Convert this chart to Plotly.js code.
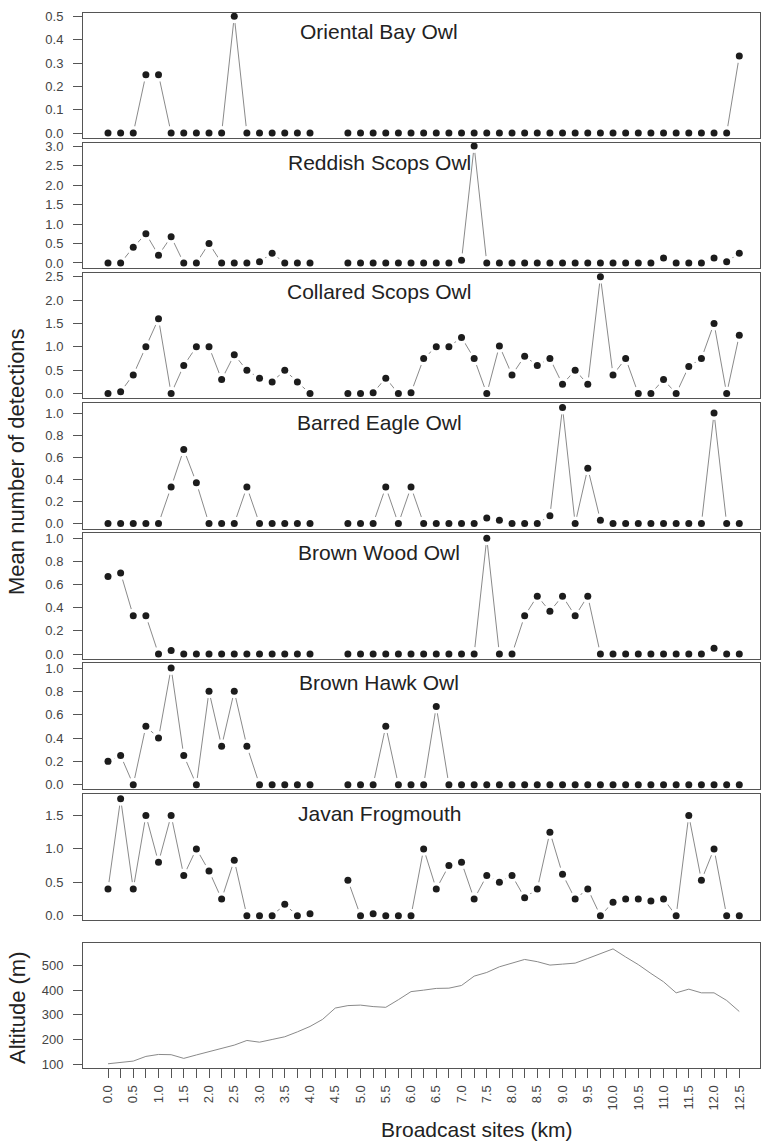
<!DOCTYPE html>
<html>
<head>
<meta charset="utf-8">
<script src="https://cdn.plot.ly/plotly-3.0.1.min.js"></script>
<style>
  html, body { margin: 0; padding: 0; background: #ffffff; }
  #chart { width: 762px; height: 1147px; }
</style>
</head>
<body>
<div id="chart"></div>
<script>
// ---------------- DATA ----------------
// Broadcast sites with detection data (km); 4.25 and 4.5 were not surveyed
const sites = [0, 0.25, 0.5, 0.75, 1, 1.25, 1.5, 1.75, 2, 2.25, 2.5, 2.75, 3, 3.25, 3.5, 3.75, 4,
  4.75, 5, 5.25, 5.5, 5.75, 6, 6.25, 6.5, 6.75, 7, 7.25, 7.5, 7.75, 8, 8.25, 8.5, 8.75, 9, 9.25,
  9.5, 9.75, 10, 10.25, 10.5, 10.75, 11, 11.25, 11.5, 11.75, 12, 12.25, 12.5];

const orientalBayOwl = [0, 0, 0, 0.25, 0.25, 0, 0, 0, 0, 0, 0.5, 0, 0, 0, 0, 0, 0,
  0, 0, 0, 0, 0, 0, 0, 0, 0, 0, 0, 0, 0, 0, 0, 0, 0, 0, 0, 0, 0, 0, 0, 0, 0, 0, 0, 0, 0, 0, 0, 0.33];

const reddishScopsOwl = [0, 0, 0.4, 0.75, 0.2, 0.67, 0, 0, 0.5, 0, 0, 0, 0.03, 0.25, 0, 0, 0,
  0, 0, 0, 0, 0, 0, 0, 0, 0, 0.07, 3.0, 0, 0, 0, 0, 0, 0, 0, 0, 0, 0, 0, 0, 0, 0, 0.13, 0, 0, 0, 0.13, 0.03, 0.25];

const collaredScopsOwl = [0, 0.04, 0.4, 1.0, 1.6, 0, 0.6, 1.0, 1.0, 0.3, 0.83, 0.5, 0.33, 0.25, 0.5, 0.25, 0,
  0, 0, 0.02, 0.33, 0, 0.02, 0.75, 1.0, 1.0, 1.2, 0.75, 0, 1.02, 0.4, 0.8, 0.6, 0.75, 0.2, 0.5,
  0.2, 2.5, 0.4, 0.75, 0, 0, 0.3, 0, 0.58, 0.75, 1.5, 0, 1.25];

const barredEagleOwl = [0, 0, 0, 0, 0, 0.33, 0.67, 0.37, 0, 0, 0, 0.33, 0, 0, 0, 0, 0,
  0, 0, 0, 0.33, 0, 0.33, 0, 0, 0, 0, 0, 0.05, 0.03, 0, 0, 0, 0.07, 1.05, 0, 0.5, 0.03,
  0, 0, 0, 0, 0, 0, 0, 0, 1.0, 0, 0];

const brownWoodOwl = [0.67, 0.7, 0.33, 0.33, 0, 0.03, 0, 0, 0, 0, 0, 0, 0, 0, 0, 0, 0,
  0, 0, 0, 0, 0, 0, 0, 0, 0, 0, 0, 1.0, 0, 0, 0.33, 0.5, 0.37, 0.5, 0.33, 0.5, 0,
  0, 0, 0, 0, 0, 0, 0, 0, 0.05, 0, 0];

const brownHawkOwl = [0.2, 0.25, 0, 0.5, 0.4, 1.0, 0.25, 0, 0.8, 0.33, 0.8, 0.33, 0, 0, 0, 0, 0,
  0, 0, 0, 0.5, 0, 0, 0, 0.67, 0, 0, 0, 0, 0, 0, 0, 0, 0, 0, 0, 0, 0,
  0, 0, 0, 0, 0, 0, 0, 0, 0, 0, 0];

const javanFrogmouth = [0.4, 1.75, 0.4, 1.5, 0.8, 1.5, 0.6, 1.0, 0.67, 0.25, 0.83, 0, 0, 0, 0.17, 0, 0.03,
  0.53, 0, 0.03, 0, 0, 0, 1.0, 0.4, 0.75, 0.8, 0.25, 0.6, 0.5, 0.6, 0.27, 0.4, 1.25, 0.62, 0.25,
  0.4, 0, 0.2, 0.25, 0.25, 0.22, 0.25, 0, 1.5, 0.53, 1.0, 0, 0];

// Altitude profile along the transect (every 0.25 km)
const altSites = [0, 0.25, 0.5, 0.75, 1, 1.25, 1.5, 1.75, 2, 2.25, 2.5, 2.75, 3, 3.25, 3.5, 3.75, 4,
  4.25, 4.5, 4.75, 5, 5.25, 5.5, 5.75, 6, 6.25, 6.5, 6.75, 7, 7.25, 7.5, 7.75, 8, 8.25, 8.5, 8.75,
  9, 9.25, 9.5, 9.75, 10, 10.25, 10.5, 10.75, 11, 11.25, 11.5, 11.75, 12, 12.25, 12.5];
const altitude = [101, 107, 112, 131, 139, 138, 123, 137, 150, 161, 177, 196, 189, 200, 211, 231, 253,
  282, 328, 338, 340, 334, 331, 362, 395, 401, 408, 409, 420, 458, 473, 496, 512, 526, 517, 503,
  507, 511, 530, 550, 569, 536, 505, 469, 435, 390, 405, 390, 390, 359, 314];

const speciesNames = ["Oriental Bay Owl", "Reddish Scops Owl", "Collared Scops Owl", "Barred Eagle Owl",
  "Brown Wood Owl", "Brown Hawk Owl", "Javan Frogmouth"];
const speciesData = [orientalBayOwl, reddishScopsOwl, collaredScopsOwl, barredEagleOwl,
  brownWoodOwl, brownHawkOwl, javanFrogmouth];

// ---------------- LAYOUT HELPERS ----------------
const W = 762, H = 1147;
const ML = 83, MR = 2, MT = 13, MB = 79;
const plotH = H - MT - MB, plotW = W - ML - MR;
const py = p => (H - MB - p) / plotH;   // pixel row -> paper y
const px = p => (p - ML) / plotW;       // pixel col -> paper x

const panelPx = [[13, 138], [143, 268], [273, 398], [403, 529], [533, 659], [663, 789], [794, 920], [943, 1068]];
const yRanges = [[-0.021, 0.514], [-0.13, 3.08], [-0.094, 2.578], [-0.049, 1.091],
  [-0.043, 1.046], [-0.037, 1.043], [-0.064, 1.821], [83.8, 593]];
const yDticks = [0.1, 0.5, 0.5, 0.2, 0.2, 0.2, 0.5, 100];
const xRange = [-0.495, 12.91];

const FONT = "Liberation Sans, Arial, Helvetica, sans-serif";
const frameColor = "#555555";
const lineGray = "#8a8a8a";
const dotColor = "#1c1c1c";

// line arrays broken at the survey gap
function withGaps(xs, ys) {
  const gx = [], gy = [];
  for (let i = 0; i < xs.length; i++) {
    if (i > 0 && xs[i] - xs[i - 1] > 0.3) { gx.push((xs[i] + xs[i - 1]) / 2); gy.push(null); }
    gx.push(xs[i]); gy.push(ys[i]);
  }
  return [gx, gy];
}

const traces = [];
const layout = {
  width: W, height: H,
  margin: { l: ML, r: MR, t: MT, b: MB, pad: 0 },
  paper_bgcolor: "#ffffff", plot_bgcolor: "#ffffff",
  showlegend: false,
  font: { family: FONT, color: "#333333" },
  annotations: []
};

for (let i = 0; i < 8; i++) {
  const n = i + 1;
  const xa = n === 1 ? "x" : "x" + n;
  const ya = n === 1 ? "y" : "y" + n;
  const xKey = n === 1 ? "xaxis" : "xaxis" + n;
  const yKey = n === 1 ? "yaxis" : "yaxis" + n;

  if (i < 7) {
    const ys = speciesData[i];
    const [lx, ly] = withGaps(sites, ys);
    traces.push({ type: "scatter", mode: "lines", x: lx, y: ly, xaxis: xa, yaxis: ya,
      line: { color: lineGray, width: 1 }, connectgaps: false, hoverinfo: "skip", cliponaxis: false });
    traces.push({ type: "scatter", mode: "markers", x: sites, y: ys, xaxis: xa, yaxis: ya,
      marker: { color: "#ffffff", size: 14, line: { width: 0 } }, hoverinfo: "skip", cliponaxis: false });
    traces.push({ type: "scatter", mode: "markers", x: sites, y: ys, xaxis: xa, yaxis: ya,
      marker: { color: dotColor, size: 7, line: { width: 0 } }, cliponaxis: false });
    layout.annotations.push({
      text: speciesNames[i], xref: "paper", yref: "paper",
      x: px(379), y: py(panelPx[i][0] + 19), xanchor: "center", yanchor: "middle",
      showarrow: false, font: { family: FONT, size: 21, color: "#222222" }
    });
  } else {
    traces.push({ type: "scatter", mode: "lines", x: altSites, y: altitude, xaxis: xa, yaxis: ya,
      line: { color: lineGray, width: 1 } });
  }

  const xAxis = {
    domain: [0, 1], range: xRange, anchor: ya,
    showline: true, mirror: true, linecolor: frameColor, linewidth: 1,
    showgrid: false, zeroline: false, fixedrange: true
  };
  if (n === 8) {
    Object.assign(xAxis, {
      tickmode: "array", tickvals: altSites,
      ticktext: altSites.map((v, k) => (k % 2 === 0 ? v.toFixed(1) : "")),
      ticks: "outside", ticklen: 9, tickwidth: 1, tickcolor: frameColor,
      tickangle: -90, tickfont: { family: FONT, size: 13, color: "#444444" },
      showticklabels: true, ticklabelstandoff: 2
    });
  } else {
    Object.assign(xAxis, { ticks: "", showticklabels: false });
  }
  layout[xKey] = xAxis;

  layout[yKey] = {
    domain: [py(panelPx[i][1]), py(panelPx[i][0])], range: yRanges[i], anchor: xa,
    showline: true, mirror: true, linecolor: frameColor, linewidth: 1,
    showgrid: false, zeroline: false, fixedrange: true,
    tickmode: "linear", tick0: 0, dtick: yDticks[i],
    tickformat: n === 8 ? "d" : ".1f",
    ticks: "outside", ticklen: 9, tickwidth: 1, tickcolor: frameColor,
    tickfont: { family: FONT, size: 13, color: "#444444" },
    ticklabelstandoff: 7
  };
}

// axis titles
layout.annotations.push({
  text: "Mean number of detections", xref: "paper", yref: "paper",
  x: px(17), y: py(462), xanchor: "center", yanchor: "middle", textangle: -90,
  showarrow: false, font: { family: FONT, size: 22, color: "#222222" }
});
layout.annotations.push({
  text: "Altitude (m)", xref: "paper", yref: "paper",
  x: px(17), y: py(1008), xanchor: "center", yanchor: "middle", textangle: -90,
  showarrow: false, font: { family: FONT, size: 22, color: "#222222" }
});
layout.annotations.push({
  text: "Broadcast sites (km)", xref: "paper", yref: "paper",
  x: px(476), y: py(1129), xanchor: "center", yanchor: "middle",
  showarrow: false, font: { family: FONT, size: 21, color: "#222222" }
});

Plotly.newPlot("chart", traces, layout, { staticPlot: true, displayModeBar: false });
</script>
</body>
</html>
